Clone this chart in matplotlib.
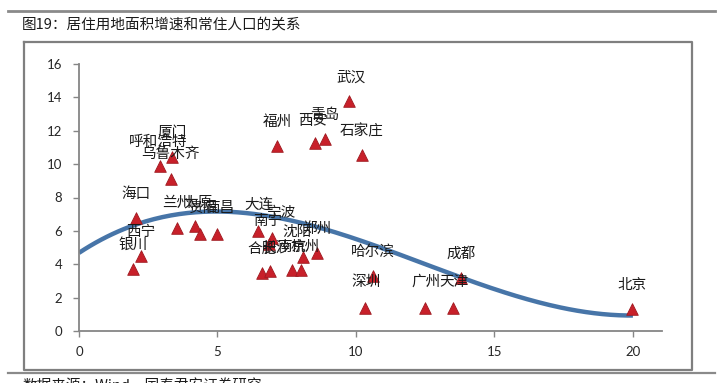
import matplotlib
matplotlib.use("Agg")
import matplotlib.pyplot as plt
import numpy as np

plt.rcParams['font.family'] = ['Noto Sans CJK SC', 'DejaVu Sans']

# ---- data ----
cities = ["武汉", "青岛", "西安", "石家庄", "福州", "厦门", "呼和浩特", "乌鲁木齐",
          "海口", "西宁", "银川", "兰州", "太原", "贵阳", "南昌", "大连", "宁波",
          "南宁", "沈阳", "郑州", "合肥", "长沙", "南京", "杭州", "哈尔滨", "深圳",
          "广州", "天津", "成都", "北京"]
pop_growth = [9.75, 8.88, 8.52, 10.22, 7.15, 3.36, 2.92, 3.32,
              2.06, 2.24, 1.95, 3.54, 4.19, 4.37, 4.98, 6.46, 6.97,
              6.86, 8.09, 8.59, 6.61, 6.90, 7.69, 8.01, 10.61, 10.33,
              12.49, 13.50, 13.79, 19.96]
land_growth = [13.78, 11.50, 11.26, 10.55, 11.08, 10.43, 9.89, 9.10,
               6.77, 4.49, 3.71, 6.17, 6.29, 5.81, 5.81, 5.99, 5.57,
               5.21, 4.43, 4.67, 3.48, 3.60, 3.65, 3.65, 3.30, 1.38,
               1.38, 1.38, 3.18, 1.32]
# trend line (cubic trendline)
trend_x = [0, 3.29, 5.09, 6.9, 8.7, 9.42, 11.23, 13.03, 14.84, 16.64, 18.45, 20]
trend_y = [4.66, 6.95, 7.15, 6.95, 6.15, 5.85, 4.66, 3.65, 2.65, 1.75, 1.16, 0.86]
x_ticks = [0, 5, 10, 15, 20]
y_ticks = [0, 2, 4, 6, 8, 10, 12, 14, 16]
title = "图19：居住用地面积增速和常住人口的关系"
source = "数据来源：Wind，国泰君安证券研究"

# label placement (pixel offsets from each point)
label_offsets = {"武汉": (2, 23), "西安": (-2, 22), "呼和浩特": (-2, 24), "兰州": (0, 25),
                 "太原": (3, 24), "贵阳": (3, 26), "南昌": (3, 26), "大连": (1, 26),
                 "宁波": (9, 25), "南宁": (-1, 23), "沈阳": (-6, 25), "长沙": (6, 23),
                 "南京": (0, 23), "杭州": (4, 23), "深圳": (1, 26), "广州": (1, 26),
                 "天津": (1, 26)}

W, H = 720, 383
fig = plt.figure(figsize=(W / 100, H / 100), dpi=100)
fig.patch.set_facecolor("white")

ax = fig.add_axes([79 / W, 1 - 331 / H, (662 - 79) / W, (331 - 64) / H], zorder=1)

# page decorations, placed in figure pixel coordinates
def px_line(xs, ys, color, lw):
    fx = [v / W for v in xs]
    fy = [1 - v / H for v in ys]
    ax.plot(fx, fy, color=color, lw=lw, transform=fig.transFigure, clip_on=False, zorder=0)

px_line([8, 715], [11, 11], "#8a8a8a", 2.0)
px_line([8, 715], [373, 373], "#8a8a8a", 1.6)
px_line([24, 692, 692, 24, 24], [42, 42, 370, 370, 42], "#7f7f7f", 1.6)
fig.text(22 / W, 1 - 24 / H, title, fontsize=10.5, va="center", ha="left", color="#1a1a1a")
fig.text(22 / W, 1 - 378 / H, source, fontsize=10.5, va="top", ha="left", color="#1a1a1a")

ax.set_xlim(0, 21.05)
ax.set_ylim(0, 16)
for s in ["top", "right"]:
    ax.spines[s].set_visible(False)
for s in ["left", "bottom"]:
    ax.spines[s].set_color("#868686")
    ax.spines[s].set_linewidth(1.3)
ax.set_xticks(x_ticks)
ax.set_yticks(y_ticks)
ax.tick_params(axis="both", colors="#868686", length=4, width=1, labelcolor="#262626",
               labelsize=9.5)
for lab in ax.get_xticklabels() + ax.get_yticklabels():
    lab.set_family(["Lato", "DejaVu Sans"])
ax.tick_params(axis="x", pad=7)
ax.tick_params(axis="y", pad=8)
ax.patch.set_alpha(0)

# trend line (cubic through the read trendline points)
coef = np.polyfit(trend_x, trend_y, 3)
xs = np.linspace(0, 20, 200)
ax.plot(xs, np.polyval(coef, xs), color="#4775A8", lw=3.2, solid_capstyle="butt", zorder=2)

ax.scatter(pop_growth, land_growth, marker="^", s=70, color="#C8202A",
           edgecolor="#9e1a20", linewidth=0.6, zorder=3)

for name, xv, yv in zip(cities, pop_growth, land_growth):
    dx, dy = label_offsets.get(name, (0, 24))
    ax.annotate(name, (xv, yv), xytext=(dx, dy), textcoords="offset pixels",
                ha="center", va="center", fontsize=10.5, color="#1a1a1a", zorder=4)

fig.savefig("out.png", dpi=100)
